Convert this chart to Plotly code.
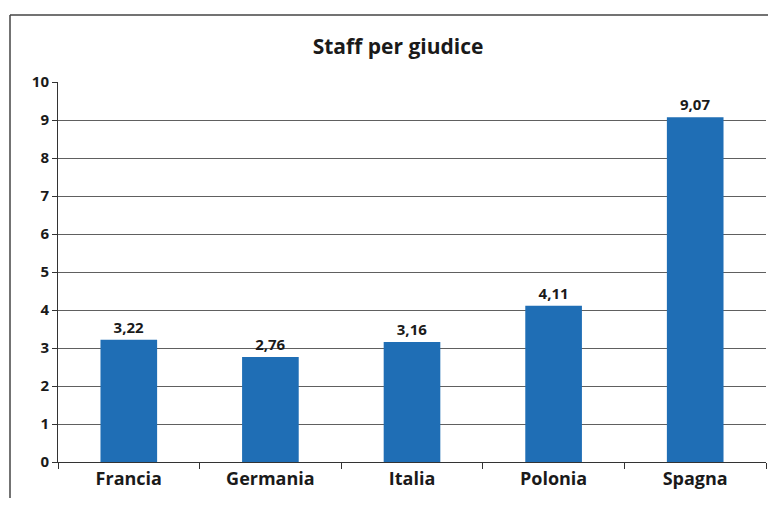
import plotly.graph_objects as go

# Data
countries = ["Francia", "Germania", "Italia", "Polonia", "Spagna"]
staff_per_judge = [3.22, 2.76, 3.16, 4.11, 9.07]
y_ticks = list(range(0, 11))

BAR_BLUE = "#1f6eb5"
TEXT = "#1a1a1a"
FONT = "Open Sans"
FRAME = "#444444"

# page body adds an 8px margin on every side, so the figure is sized to fit
W, H = 760, 490
M = {"t": 74, "b": 36, "l": 50, "r": 2}
PW, PH = W - M["l"] - M["r"], H - M["t"] - M["b"]

fig = go.Figure()

fig.add_trace(
    go.Bar(
        x=countries,
        y=staff_per_judge,
        width=0.4,
        marker={"color": BAR_BLUE, "line": {"width": 0}},
        texttemplate="%{y:.2f}",
        textposition="outside",
        cliponaxis=False,
        textfont={"family": FONT, "size": 15, "color": TEXT, "weight": "bold"},
    )
)

# Outer chart frame: only left and top edges are visible in the scan.
# Kept inside the figure so the page does not overflow.
frame_left = -48 / PW
frame_top = 1 + 67 / PH
fig_bottom = -M["b"] / PH
fig_right = 1 + M["r"] / PW
fig.add_shape(
    type="line", xref="paper", yref="paper",
    x0=frame_left, x1=frame_left, y0=fig_bottom, y1=frame_top,
    line={"color": FRAME, "width": 1.5}, layer="above",
)
fig.add_shape(
    type="line", xref="paper", yref="paper",
    x0=frame_left, x1=fig_right, y0=frame_top, y1=frame_top,
    line={"color": FRAME, "width": 1.5}, layer="above",
)

fig.update_layout(
    width=W,
    height=H,
    separators=",.",
    title={
        "text": "Staff per giudice",
        "x": 390 / W,
        "xanchor": "center",
        "y": 1 - 39 / H,
        "yanchor": "middle",
        "font": {"family": FONT, "size": 21, "color": TEXT, "weight": "bold"},
    },
    xaxis={
        "showgrid": False,
        "showline": True,
        "linecolor": "#333333",
        "linewidth": 1,
        "ticks": "outside",
        "tickson": "boundaries",
        "ticklen": 6,
        "tickcolor": "#333333",
        "tickfont": {"family": FONT, "size": 18, "color": TEXT, "weight": "bold"},
    },
    yaxis={
        "range": [0, 10],
        "tickvals": y_ticks,
        "showgrid": True,
        "gridcolor": "#606060",
        "gridwidth": 1,
        "zeroline": False,
        "showline": True,
        "linecolor": "#333333",
        "linewidth": 1,
        "ticks": "outside",
        "ticklen": 5,
        "tickcolor": "#333333",
        "tickfont": {"family": FONT, "size": 15, "color": TEXT, "weight": "bold"},
    },
    plot_bgcolor="white",
    paper_bgcolor="white",
    showlegend=False,
    margin={**M, "pad": 0},
)

fig.write_html("out.html")
